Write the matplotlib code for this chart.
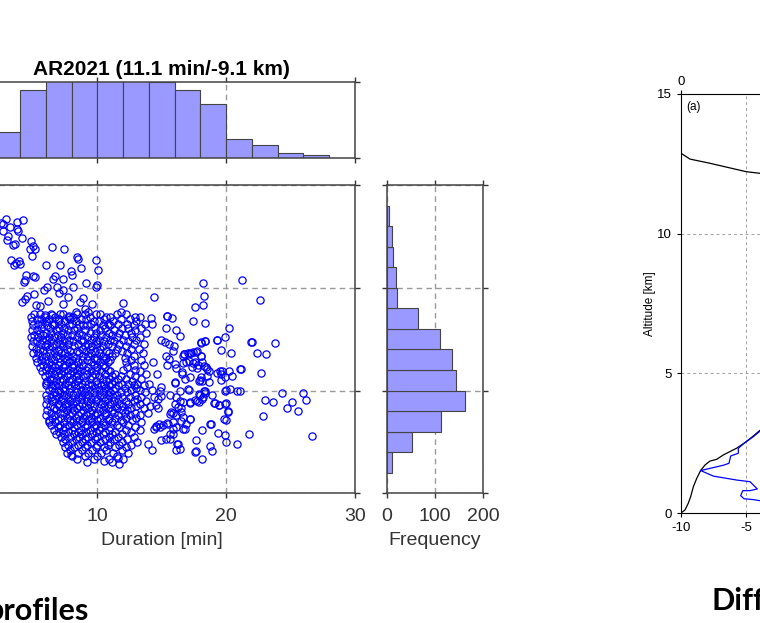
import numpy as np
import matplotlib.pyplot as plt

plt.rcParams['font.family'] = ['Liberation Sans', 'DejaVu Sans']
plt.rcParams['axes.unicode_minus'] = False

# -------------------------------------------------
# data
# -------------------------------------------------
title = "AR2021 (11.1 min/-9.1 km)"

# duration histogram (2-min bins, left edges) -- some bars clipped at ylim
dur_edges = [0, 2, 4, 6, 8, 10, 12, 14, 16, 18, 20, 22, 24, 26]
dur_counts = [8, 34, 90, 103, 108, 112, 106, 101, 90, 72, 25, 18, 7, 5]

# shift histogram (1-km bins, bottom edges)
km_edges = [-14, -13, -12, -11, -10, -9, -8, -7, -6, -5, -4, -3, -2]
km_counts = [12, 53, 113, 162, 144, 136, 111, 65, 22, 20, 14, 12, 5]

# scattered events (duration [min], shift [km])
tail_pts = [
    (2.48, -1.86), (2.90, -1.67), (4.19, -1.70), (3.77, -1.80), (2.69, -1.91),
    (3.21, -2.02), (3.72, -2.15), (3.85, -2.23), (2.64, -2.23), (3.08, -2.48),
    (4.11, -2.56), (2.95, -2.69), (3.59, -2.88), (3.46, -2.91), (4.81, -2.72),
    (4.96, -2.96), (4.76, -3.09), (5.14, -3.12), (4.88, -3.45), (6.49, -3.04),
    (7.39, -3.09), (3.28, -3.66), (3.64, -3.80), (3.93, -3.72), (3.98, -3.82),
    (3.52, -3.87), (6.00, -3.90), (7.08, -3.90), (8.42, -3.48), (8.50, -3.61),
    (9.85, -3.64), (8.76, -4.06), (10.05, -4.14), (7.93, -4.18), (7.99, -4.37),
    (4.42, -4.37), (5.01, -4.45), (5.14, -4.50), (6.69, -4.43), (6.56, -4.58),
    (7.29, -4.56), (4.37, -4.61), (4.32, -4.74), (9.10, -4.79), (9.98, -4.87),
    (9.87, -4.98), (8.11, -4.94), (6.05, -4.94), (6.82, -4.98), (5.87, -5.11),
    (7.34, -5.11), (7.03, -5.26), (7.68, -5.44), (4.50, -5.39), (4.37, -5.55),
    (4.11, -5.71), (5.09, -5.28), (5.22, -5.84), (5.53, -5.87), (6.18, -5.65),
    (7.29, -5.81), (8.84, -5.52), (8.63, -5.68), (9.54, -5.78), (9.02, -6.04),
    (9.28, -6.20), (8.37, -6.20), (7.80, -6.36), (11.99, -5.76), (11.86, -6.17),
    (5.92, -6.33), (6.44, -6.33), (14.39, -5.46),
]

spread_pts = [
    (18.19, -4.79), (21.22, -4.63), (22.59, -5.59), (18.24, -5.39), (17.55, -5.93),
    (18.19, -5.83), (17.42, -6.64), (18.37, -6.70), (20.21, -6.95), (15.40, -6.38),
    (15.82, -6.48), (16.13, -7.04), (16.43, -7.35), (21.99, -7.63), (23.75, -7.67),
    (22.38, -8.16), (23.05, -8.22), (22.69, -9.15), (21.09, -8.97), (19.92, -7.40),
    (19.61, -8.05), (20.34, -8.16), (19.28, -7.54), (18.35, -7.61), (18.04, -7.69),
    (17.68, -8.11), (17.21, -8.18), (16.72, -8.24), (18.06, -8.31), (16.90, -8.63),
    (17.42, -8.68), (17.80, -8.74), (18.45, -8.84), (18.63, -9.03), (19.48, -9.03),
    (20.18, -9.03), (19.61, -9.20), (19.56, -9.49), (18.14, -9.52), (17.93, -9.47),
    (18.66, -9.58), (16.59, -9.20), (16.77, -9.44), (16.05, -9.60), (20.00, -9.97),
    (20.26, -9.92), (20.85, -10.00), (21.09, -10.00), (24.34, -10.10), (25.99, -10.13),
    (26.20, -10.46), (23.02, -10.47), (23.67, -10.54), (25.09, -10.57), (24.73, -10.85),
    (25.58, -10.98), (22.84, -11.23), (20.13, -11.02), (19.95, -10.62), (19.95, -11.43),
    (21.76, -12.11), (20.85, -12.58), (19.95, -12.51), (19.92, -12.14), (19.36, -12.06),
    (18.71, -11.65), (18.14, -11.93), (18.92, -10.20), (19.10, -10.60), (19.41, -10.68),
    (18.24, -10.02), (17.88, -10.17), (18.19, -10.30), (17.73, -10.52), (17.21, -10.62),
    (17.11, -9.97), (16.38, -10.00), (16.13, -10.33), (16.38, -10.49), (16.51, -10.86),
    (15.87, -11.09), (15.61, -11.14), (16.64, -11.30), (17.21, -11.40), (16.51, -11.49),
    (16.77, -11.87), (17.62, -12.43), (17.62, -12.95), (18.11, -13.34), (18.71, -12.71),
    (18.89, -12.95), (26.67, -12.19), (16.18, -12.59), (16.38, -12.84), (16.13, -12.89),
    (15.35, -12.35), (14.96, -12.40), (15.66, -12.11), (15.87, -11.87), (15.09, -11.70),
    (14.52, -11.78), (14.76, -11.62), (15.43, -11.57),
    (15.43, -6.39), (14.19, -6.48), (14.24, -6.76), (15.30, -6.97), (14.91, -7.54),
    (15.22, -7.65), (15.56, -7.73), (15.87, -8.10), (16.72, -8.23), (17.24, -8.17),
    (17.75, -8.10), (18.01, -8.30), (18.01, -7.65), (18.32, -7.59), (19.30, -7.54),
    (21.94, -7.62), (19.82, -11.40), (20.13, -11.05), (19.87, -10.64), (18.79, -11.61),
    (17.60, -12.99), (16.26, -12.59), (15.61, -12.34), (15.87, -12.10), (17.16, -11.37),
    (16.90, -11.61), (16.64, -11.86), (16.13, -11.78), (15.87, -11.53), (15.48, -11.61),
    (14.84, -11.78), (14.57, -11.73), (14.39, -11.86), (16.13, -11.21), (16.51, -11.05),
    (16.26, -10.81), (15.74, -11.05), (16.00, -10.64), (16.64, -10.56), (17.16, -10.56),
    (17.55, -10.48), (17.86, -10.56), (18.11, -10.40), (18.32, -10.11), (17.93, -10.24),
    (19.05, -10.59), (19.43, -10.69), (19.87, -10.00), (18.32, -10.00), (17.03, -9.92),
    (15.61, -10.24), (14.96, -10.27), (14.71, -10.40), (14.57, -10.69), (14.71, -10.85),
    (14.84, -10.04), (14.91, -9.83), (16.05, -9.62), (17.16, -9.35), (17.86, -9.56),
    (18.01, -9.35), (18.50, -9.30), (19.30, -9.14), (19.67, -9.07), (19.87, -9.35),
    (20.47, -9.30), (21.11, -8.94), (17.75, -8.91), (17.34, -8.86), (18.24, -8.83),
    (18.53, -8.94), (17.08, -8.54), (17.55, -8.62), (18.11, -8.62), (16.64, -8.65),
    (16.13, -8.90), (16.56, -9.11), (16.00, -8.70), (15.43, -8.75), (15.53, -8.46),
    (15.35, -8.30), (15.94, -7.81), (16.64, -8.30), (17.03, -8.17), (17.42, -8.14),
    (6.25, -11.51), (7.93, -13.16), (10.49, -13.45), (11.68, -13.56), (11.60, -13.27),
    (6.00, -9.63), (14.6, -9.2), (14.3, -8.6), (13.9, -12.6), (14.2, -12.9),
]

# dense core, typed row by row: (shift, [durations])
cluster_rows = [
    (-6.30, [5.1, 5.5, 6.4, 7.1, 7.3, 8.4, 9.0, 9.9, 10.2, 11.5, 12.2]),
    (-6.41, [4.8, 5.9, 6.7, 7.7, 8.1, 9.4, 10.7, 11.0, 12.9, 13.3]),
    (-6.53, [5.3, 5.6, 6.2, 7.0, 7.9, 8.7, 9.1, 10.5, 11.8, 12.5]),
    (-6.62, [4.9, 6.0, 6.9, 7.5, 8.3, 9.7, 10.1, 11.2, 13.0]),
    (-6.75, [5.4, 5.7, 6.5, 7.2, 8.0, 8.6, 9.5, 10.8, 11.6, 12.3, 13.7]),
    (-6.83, [5.0, 6.1, 6.6, 7.8, 8.9, 9.2, 10.4, 11.0, 12.8]),
    (-6.97, [5.6, 6.3, 7.0, 7.4, 8.4, 9.8, 10.6, 11.9, 12.4, 13.4]),
    (-7.05, [4.9, 5.3, 6.8, 7.7, 8.2, 9.0, 10.2, 11.3, 12.9]),
    (-7.18, [5.5, 6.0, 6.4, 7.3, 8.6, 9.4, 9.9, 10.9, 11.7, 12.6, 13.8]),
    (-7.29, [5.1, 5.8, 6.9, 7.6, 8.0, 8.8, 10.3, 11.1, 12.1]),
    (-7.40, [4.8, 5.4, 6.2, 6.6, 7.2, 8.4, 9.2, 9.7, 10.7, 11.5, 12.7, 13.3]),
    (-7.52, [5.7, 6.0, 7.0, 7.8, 8.7, 9.5, 10.1, 11.0, 12.0, 13.0]),
    (-7.61, [5.0, 5.3, 6.4, 7.4, 8.1, 8.9, 9.9, 10.5, 11.3, 12.4]),
    (-7.74, [5.6, 6.1, 6.8, 7.1, 7.7, 8.5, 9.3, 10.0, 10.8, 11.7, 12.8, 13.6]),
    (-7.83, [4.9, 5.9, 6.5, 7.3, 8.2, 9.0, 9.6, 10.4, 11.1, 12.2]),
    (-7.96, [5.2, 5.5, 6.2, 7.0, 7.6, 8.8, 9.4, 10.2, 11.5, 12.6, 13.2]),
    (-8.07, [5.8, 6.6, 6.9, 7.9, 8.4, 9.1, 9.8, 10.7, 11.9]),
    (-8.18, [5.0, 5.4, 6.3, 7.2, 7.5, 8.6, 9.5, 10.1, 10.9, 11.4, 12.3, 13.5]),
    (-8.31, [5.7, 6.0, 6.8, 7.7, 8.1, 8.9, 9.3, 10.4, 11.1, 12.8]),
    (-8.40, [5.2, 6.4, 7.0, 7.4, 8.3, 9.7, 10.0, 10.7, 12.1]),
    (-8.52, [5.6, 5.9, 6.6, 7.6, 8.0, 8.8, 9.2, 9.9, 10.5, 11.0, 12.6, 13.4]),
    (-8.63, [5.3, 6.2, 7.1, 7.8, 8.5, 9.5, 10.2, 10.8, 12.2]),
    (-8.74, [5.8, 6.5, 6.9, 7.5, 8.2, 8.9, 9.7, 10.4, 12.8, 13.6]),
    (-8.86, [5.5, 6.1, 6.7, 7.3, 8.0, 8.6, 9.3, 10.0, 10.6, 12.3]),
    (-8.98, [6.0, 6.4, 7.0, 7.7, 8.4, 9.1, 9.9, 10.8, 12.0, 12.9]),
    (-9.07, [5.7, 6.8, 7.4, 8.1, 8.7, 9.5, 10.3, 11.0, 13.3]),
    (-9.19, [6.2, 6.6, 7.2, 7.9, 8.5, 9.2, 9.8, 10.6, 11.4, 12.5, 13.8]),
    (-9.31, [5.9, 6.9, 7.6, 8.3, 8.9, 9.6, 10.1, 11.1, 11.8, 12.9]),
    (-9.42, [6.3, 6.5, 7.3, 8.0, 8.6, 9.4, 10.4, 10.9, 11.6, 12.2, 13.4]),
    (-9.53, [6.1, 6.8, 7.1, 7.8, 8.4, 9.0, 9.9, 10.7, 11.3, 12.7]),
    (-9.66, [6.4, 7.5, 8.2, 8.8, 9.3, 10.0, 10.5, 11.1, 11.9, 12.4, 13.1, 14.0]),
    (-9.75, [6.0, 6.7, 7.0, 7.7, 8.5, 9.6, 10.3, 10.9, 11.6, 12.8, 13.6]),
    (-9.88, [6.5, 7.3, 7.9, 8.3, 9.1, 9.8, 10.6, 11.4, 12.1, 13.0]),
    (-9.97, [6.2, 6.9, 7.5, 8.7, 9.4, 10.1, 10.8, 11.2, 12.6, 13.3, 14.2]),
    (-10.09, [6.6, 7.1, 7.8, 8.4, 9.0, 9.7, 10.4, 11.0, 11.8, 12.3, 13.7]),
    (-10.20, [6.0, 6.8, 7.4, 8.1, 8.8, 9.3, 10.2, 10.9, 11.5, 12.9]),
    (-10.31, [6.4, 7.0, 7.7, 8.5, 9.1, 9.8, 10.5, 11.2, 11.9, 12.5, 13.4, 14.4]),
    (-10.43, [6.1, 6.7, 7.3, 8.0, 8.7, 9.5, 10.0, 10.8, 11.6, 13.1]),
    (-10.52, [6.5, 7.2, 7.9, 8.3, 9.2, 9.9, 10.6, 11.3, 12.2, 12.8, 13.8]),
    (-10.65, [6.0, 6.9, 7.5, 8.1, 8.8, 9.4, 10.3, 11.0, 11.7, 12.4, 13.3]),
    (-10.74, [6.3, 7.0, 7.7, 8.6, 9.0, 9.7, 10.5, 11.4, 12.0, 13.0, 14.1]),
    (-10.87, [6.6, 7.3, 8.0, 8.4, 9.3, 10.1, 10.8, 11.5, 12.6, 13.6]),
    (-10.96, [6.1, 6.8, 7.6, 8.2, 8.9, 9.6, 10.4, 11.1, 11.9, 12.3]),
    (-11.09, [6.4, 7.1, 7.4, 8.0, 8.7, 9.4, 10.0, 10.7, 11.3, 12.1, 12.9, 13.9]),
    (-11.20, [6.0, 6.7, 7.8, 8.5, 9.1, 9.8, 10.6, 11.6, 12.5, 13.3]),
    (-11.32, [6.5, 7.2, 7.6, 8.3, 8.9, 9.5, 10.2, 10.9, 11.4, 12.2, 13.0]),
    (-11.43, [6.2, 6.9, 7.9, 8.6, 9.3, 10.0, 10.8, 11.8, 12.7]),
    (-11.55, [6.7, 7.4, 8.1, 8.8, 9.6, 10.4, 11.1, 12.0, 13.4]),
    (-11.66, [6.4, 7.1, 7.8, 8.4, 9.2, 9.9, 10.6, 11.5, 12.4]),
    (-11.78, [6.9, 7.5, 8.2, 9.0, 9.7, 10.3, 11.0, 11.7, 12.9]),
    (-11.90, [6.6, 7.3, 8.0, 8.7, 9.4, 10.1, 10.9, 12.2, 13.3]),
    (-12.01, [7.0, 7.7, 8.5, 9.1, 9.9, 10.6, 11.4, 12.6]),
    (-12.13, [6.8, 7.4, 8.2, 8.8, 9.6, 10.4, 11.1, 11.9]),
    (-12.26, [7.2, 7.9, 8.6, 9.3, 10.0, 10.9, 11.6, 12.8]),
    (-12.38, [7.5, 8.3, 9.0, 9.8, 10.6, 11.3, 12.3]),
    (-12.50, [7.3, 8.0, 8.8, 9.5, 10.2, 11.0, 11.9, 13.1]),
    (-12.63, [7.7, 8.5, 9.2, 10.0, 10.8, 11.7, 12.6]),
    (-12.77, [7.5, 8.2, 9.0, 9.9, 10.5, 11.4, 12.2]),
    (-12.90, [7.9, 8.8, 9.6, 10.7, 11.9]),
    (-13.03, [7.6, 8.5, 9.3, 10.3, 11.2, 12.4]),
    (-13.18, [8.0, 9.0, 10.0, 11.5]),
    (-13.32, [8.4, 9.7, 10.9, 12.0]),
    (-13.48, [9.2, 11.1]),
]

# right-hand profile panel (a)
prof_top_x = [-10.0, -10.0, -9.31, -7.77, -5.0, -3.92, -2.5]
prof_top_z = [15.0, 12.88, 12.67, 12.52, 12.22, 12.16, 12.10]
prof_blk_x = [-10.0, -9.69, -9.44, -9.26, -9.05, -8.79, -8.49, -8.15, -7.77,
              -7.26, -6.74, -6.10, -5.72, -5.08, -4.56, -4.05, -3.0]
prof_blk_z = [0.0, 0.11, 0.35, 0.58, 0.94, 1.24, 1.52, 1.72, 1.86,
              1.92, 2.08, 2.23, 2.32, 2.52, 2.71, 2.91, 3.3]
prof_blu_x = [-3.0, -3.98, -4.44, -5.08, -5.59, -5.59, -6.18, -6.31, -6.74,
              -8.49, -7.51, -5.72, -4.69, -4.13, -4.69, -5.25, -5.41, -5.15,
              -4.44, -3.92, -3.0]
prof_blu_z = [3.3, 2.91, 2.73, 2.52, 2.32, 2.14, 2.04, 1.78, 1.71,
              1.52, 1.32, 1.18, 1.12, 0.86, 0.80, 0.80, 0.62, 0.51,
              0.48, 0.44, 0.40]

# -------------------------------------------------
# assemble scatter arrays
# -------------------------------------------------
pts = tail_pts + spread_pts
for yrow, xs in cluster_rows:
    pts += [(xv, yrow) for xv in xs]
dur = np.array([p[0] for p in pts])
shift = np.array([p[1] for p in pts])

# -------------------------------------------------
# layout (pixel boxes on a 760x623 canvas)
# -------------------------------------------------
W, H = 760, 623
fig = plt.figure(figsize=(W / 100, H / 100), dpi=100)


def box(x0, y0, x1, y1):
    return [x0 / W, 1 - y1 / H, (x1 - x0) / W, (y1 - y0) / H]


ink = '#333333'
face = '#9999ff'
gridkw = dict(color='#9a9a9a', linestyle=(0, (4, 3)), linewidth=1.0)


def style(ax):
    for s in ax.spines.values():
        s.set_color('#444444')
        s.set_linewidth(1.1)
    ax.tick_params(direction='out', length=3.5, width=1, colors=ink,
                   labelsize=14, top=True, right=True, pad=7)
    ax.set_axisbelow(True)


# scatter
ax = fig.add_axes(box(-31.3, 185, 355, 493.3))
style(ax)
ax.plot(dur, shift, 'o', mfc='none', mec='blue', ms=5.2, mew=0.9)
ax.set_xlim(0, 30)
ax.set_ylim(-15, 0)
ax.set_xticks([0, 10, 20, 30])
ax.set_yticks([-15, -10, -5, 0])
ax.grid(True, **gridkw)
ax.set_xlabel('Duration [min]', fontsize=14, color=ink, labelpad=5)

# top histogram
axt = fig.add_axes(box(-31.3, 82.3, 355, 158.3))
style(axt)
axt.bar(dur_edges, dur_counts, width=2, align='edge', color=face,
        edgecolor='#444444', linewidth=0.8)
axt.set_xlim(0, 30)
axt.set_ylim(0, 100)
axt.set_xticks([0, 10, 20, 30])
axt.set_yticks([0, 100])
axt.xaxis.grid(True, **gridkw)
axt.set_xticklabels([])
axt.set_title(title, fontsize=15, fontweight='bold', color='black', pad=5)

# right histogram
axr = fig.add_axes(box(386.7, 185, 483.3, 493.3))
style(axr)
axr.barh(km_edges, km_counts, height=1, align='edge', color=face,
         edgecolor='#444444', linewidth=0.8)
axr.set_xlim(0, 200)
axr.set_ylim(-15, 0)
axr.set_xticks([0, 100, 200])
axr.set_yticks([-15, -10, -5, 0])
axr.set_yticklabels([])
axr.grid(True, **gridkw)
axr.set_xlabel('Frequency', fontsize=14, color=ink, labelpad=5)

# profile panel (a), cut by the right edge
axp = fig.add_axes(box(681, 94, 941, 513))
for s in axp.spines.values():
    s.set_color('black')
    s.set_linewidth(0.8)
axp.plot(prof_top_x, prof_top_z, color='black', lw=0.9)
axp.plot(prof_blk_x, prof_blk_z, color='black', lw=0.9)
axp.plot(prof_blu_x, prof_blu_z, color='blue', lw=0.9)
axp.set_xlim(-10, 10)
axp.set_ylim(0, 15)
axp.set_xticks([-10, -5, 0, 5, 10])
axp.set_yticks([0, 5, 10, 15])
axp.grid(True, color='#a0a0a0', linestyle=(0, (3, 3)), linewidth=0.7)
axp.tick_params(direction='out', length=3, labelsize=9.5, colors='black')
axp.set_ylabel('Altitude [km]', fontsize=8.5, labelpad=1)
axp.text(-9.6, 14.75, '(a)', fontsize=8.5, va='top', ha='left')
axp2 = axp.twiny()
axp2.set_xlim(0, 2)
axp2.set_xticks([0, 1, 2])
axp2.tick_params(direction='out', length=3, labelsize=9.5, pad=1)
for s in axp2.spines.values():
    s.set_visible(False)

# slide captions, clipped by the crop
fig.text(-14 / W, 1 - 620 / H, 'profiles', fontsize=22, fontweight='bold',
         family=['Lato', 'DejaVu Sans'], ha='left', va='baseline')
fig.text(712 / W, 1 - 610 / H, 'Differences', fontsize=22, fontweight='bold',
         family=['Lato', 'DejaVu Sans'], ha='left', va='baseline')

fig.savefig('out.png', dpi=100)
